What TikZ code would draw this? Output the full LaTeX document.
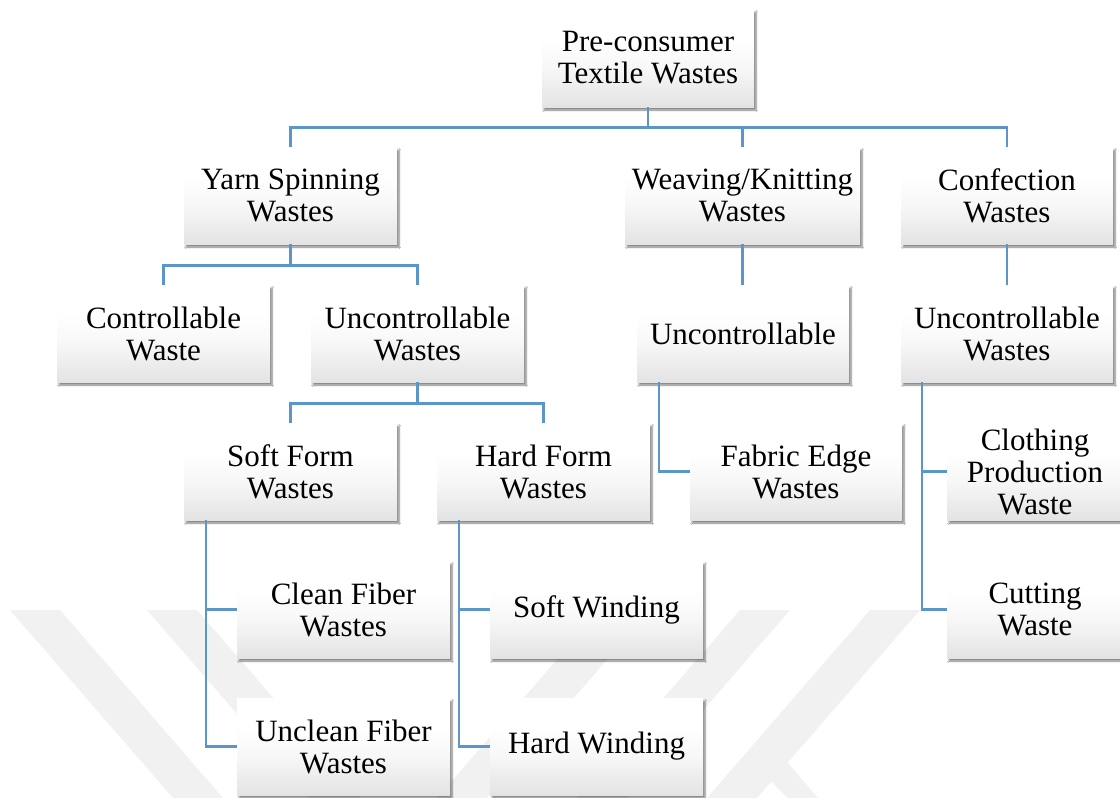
\documentclass[tikz,border=0pt]{standalone}
\usepackage{fontspec}
\setmainfont{Liberation Serif}
\usetikzlibrary{shadows.blur}
\definecolor{connblue}{HTML}{5B96CB}
\definecolor{wmgray}{HTML}{F1F1F1}
\pgfdeclareverticalshading{boxshade}{100bp}{color(0bp)=(black!11); color(25bp)=(black!11); color(45bp)=(black!3); color(60bp)=(white); color(100bp)=(white)}
\begin{document}
\begin{tikzpicture}[x=1pt,y=-1pt,
  box/.style={rectangle, inner sep=0pt, align=center,
    minimum width=213pt, minimum height=97pt,
    shading=boxshade,
    blur shadow={shadow xshift=2pt, shadow yshift=-3pt, shadow blur steps=6, shadow opacity=50},
    font=\fontsize{31}{32}\selectfont},
  conn/.style={draw=connblue, line width=2.6pt},
  wm/.style={fill=wmgray, draw=none}]
\useasboundingbox (0,0) rectangle (1120,798);
\fill[white] (0,0) rectangle (1120,798);
% watermark
\fill[wm] (10,610) -- (60,610) -- (223,798) -- (173,798) -- cycle;
\fill[wm] (147,610) -- (197,610) -- (360,798) -- (310,798) -- cycle;
\fill[wm] (600,610) -- (650,610) -- (487,798) -- (437,798) -- cycle;
\fill[wm] (740,610) -- (790,610) -- (627,798) -- (577,798) -- cycle;
\fill[wm] (870,610) -- (920,610) -- (757,798) -- (707,798) -- cycle;
\fill[wm] (752,762) -- (775,748) -- (818,798) -- (788,798) -- cycle;
% nodes
\node[box, minimum width=212pt, minimum height=98pt] (root) at (648,58) {Pre-consumer\\Textile Wastes};
\node[box] (yarn) at (290.5,195.5) {Yarn Spinning\\Wastes};
\node[box, minimum width=235pt] (weave) at (742.5,195.5) {Weaving/Knitting\\Wastes};
\node[box, minimum width=212pt] (conf) at (1007,195.5) {Confection\\Wastes};
\node[box] (ctrl) at (163.5,333.5) {Controllable\\Waste};
\node[box] (unc1) at (417.5,333.5) {Uncontrollable\\Wastes};
\node[box, minimum width=212pt] (unc2) at (743,333.5) {Uncontrollable};
\node[box, minimum width=212pt] (unc3) at (1007,333.5) {Uncontrollable\\Wastes};
\node[box] (soft) at (290.5,471.5) {Soft Form\\Wastes};
\node[box] (hard) at (543.5,471.5) {Hard Form\\Wastes};
\node[box, minimum width=212pt] (fabric) at (796,471.5) {Fabric Edge\\Wastes};
\node[box, minimum width=176pt] (cloth) at (1035,471.5) {Clothing\\Production\\Waste};
\node[box] (clean) at (343.5,609.5) {Clean Fiber\\Wastes};
\node[box] (unclean) at (343.5,746.5) {Unclean Fiber\\Wastes};
\node[box] (softw) at (596.5,609.5) {Soft Winding};
\node[box] (hardw) at (596.5,746.5) {Hard Winding};
\node[box, minimum width=176pt] (cut) at (1035,609.5) {Cutting\\Waste};
% connectors
\draw[conn] (root.south) -- ++(0,20) -| (yarn.north);
\draw[conn] (root.south) -- ++(0,20) -| (weave.north);
\draw[conn] (root.south) -- ++(0,20) -| (conf.north);
\draw[conn] (weave.south) -- (weave.south |- unc2.north);
\draw[conn] (conf.south) -- (unc3.north);
\draw[conn] (yarn.south) -- ++(0,21) -| (ctrl.north);
\draw[conn] (yarn.south) -- ++(0,21) -| (unc1.north);
\draw[conn] (unc1.south) -- ++(0,21) -| (soft.north);
\draw[conn] (unc1.south) -- ++(0,21) -| (hard.north);
\coordinate (sA) at ([xshift=22pt]soft.south west);
\coordinate (hA) at ([xshift=22pt]hard.south west);
\coordinate (uA) at ([xshift=22pt]unc2.south west);
\coordinate (cA) at ([xshift=21pt]unc3.south west);
\draw[conn] (sA) |- (clean.west);
\draw[conn] (sA) |- (unclean.west);
\draw[conn] (hA) |- (softw.west);
\draw[conn] (hA) |- (hardw.west);
\draw[conn] (uA) |- (fabric.west);
\draw[conn] (cA) |- (cloth.west);
\draw[conn] (cA) |- (cut.west);
\end{tikzpicture}
\end{document}
